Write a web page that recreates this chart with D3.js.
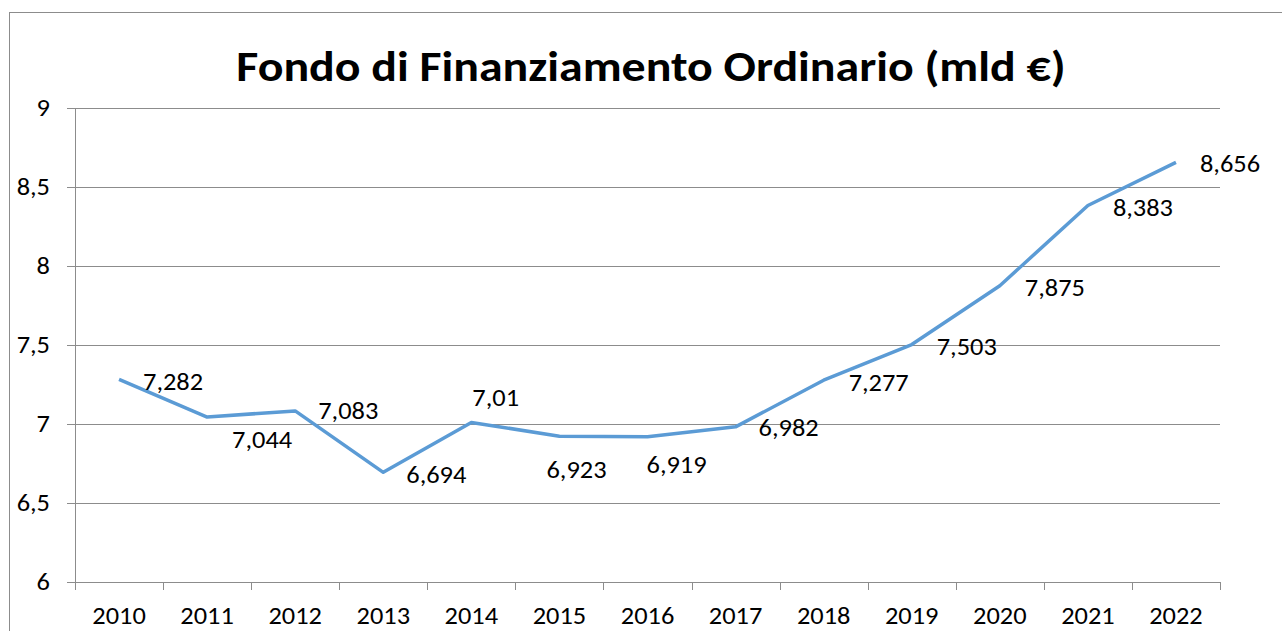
<!DOCTYPE html>
<html>
<head>
<meta charset="utf-8">
<script src="https://cdn.jsdelivr.net/npm/d3@7"></script>
<style>
  body { margin: 0; background: #fff; }
  svg { display: block; font-family: Carlito, Calibri, Lato, sans-serif; }
</style>
</head>
<body>
<div id="chart"></div>
<script>
// data
var years = ["2010", "2011", "2012", "2013", "2014", "2015", "2016", "2017", "2018", "2019", "2020", "2021", "2022"];
var ffo = [7.282, 7.044, 7.083, 6.694, 7.01, 6.923, 6.919, 6.982, 7.277, 7.503, 7.875, 8.383, 8.656];
var yTicks = [6, 6.5, 7, 7.5, 8, 8.5, 9];

var width = 1282, height = 631;
var margin = { left: 75, right: 62, top: 108, bottom: 49 };
var sx = 1.1; // the original is a bit wide, stretch text horizontally

var svg = d3.select("#chart")
    .append("svg")
    .attr("width", width)
    .attr("height", height);

// place a text at (px, py) stretched horizontally
function place(sel, px, py, k) {
    sel.attr("transform", function (d, i) {
        return "translate(" + px(d, i) + "," + py(d, i) + ") scale(" + (k || sx) + ",1)";
    });
}

// chart border
svg.append("rect")
    .attr("x", 9.5).attr("y", 12.5)
    .attr("width", 1400).attr("height", 800)
    .attr("fill", "none")
    .attr("stroke", "#8c8c8c");

svg.append("text")
    .attr("text-anchor", "middle")
    .attr("font-size", 42)
    .attr("font-weight", "bold")
    .text("Fondo di Finanziamento Ordinario (mld €)")
    .call(place, function () { return 651; }, function () { return 81; }, 1.14);

var x = d3.scaleBand()
    .domain(years)
    .range([margin.left, width - margin.right]);

var y = d3.scaleLinear()
    .domain([6, 9])
    .range([height - margin.bottom, margin.top]);

var fmt = function (v) { return String(v).replace(".", ","); };

// gridlines
svg.append("g")
    .selectAll("line")
    .data(yTicks)
    .enter().append("line")
    .attr("x1", margin.left - 8)
    .attr("x2", width - margin.right)
    .attr("y1", function (d) { return Math.round(y(d)) + 0.5; })
    .attr("y2", function (d) { return Math.round(y(d)) + 0.5; })
    .attr("stroke", "#8c8c8c");

// y axis line and labels
svg.append("line")
    .attr("x1", margin.left + 0.5).attr("x2", margin.left + 0.5)
    .attr("y1", margin.top).attr("y2", height - margin.bottom + 8)
    .attr("stroke", "#8c8c8c");

svg.append("g")
    .selectAll("text")
    .data(yTicks)
    .enter().append("text")
    .attr("dy", "0.35em")
    .attr("text-anchor", "end")
    .attr("font-size", 24)
    .text(fmt)
    .call(place, function () { return 50; }, function (d) { return y(d); });

// x axis ticks at band boundaries
var bounds = years.map(function (d) { return x(d); }).concat([x(years[years.length - 1]) + x.bandwidth()]);
svg.append("g")
    .selectAll("line")
    .data(bounds)
    .enter().append("line")
    .attr("x1", function (d) { return Math.round(d) + 0.5; })
    .attr("x2", function (d) { return Math.round(d) + 0.5; })
    .attr("y1", height - margin.bottom)
    .attr("y2", height - margin.bottom + 8)
    .attr("stroke", "#8c8c8c");

svg.append("g")
    .selectAll("text")
    .data(years)
    .enter().append("text")
    .attr("text-anchor", "middle")
    .attr("font-size", 24)
    .text(function (d) { return d; })
    .call(place, function (d) { return x(d) + x.bandwidth() / 2; }, function () { return 624; });

// line
var line = d3.line()
    .x(function (d, i) { return x(years[i]) + x.bandwidth() / 2; })
    .y(function (d) { return y(d); });

svg.append("path")
    .datum(ffo)
    .attr("d", line)
    .attr("fill", "none")
    .attr("stroke", "#5b9bd5")
    .attr("stroke-width", 3.5)
    .attr("stroke-linejoin", "round");

// label offsets like Excel's auto placement
var off = [[24, 2], [25, 23], [23, 0], [23, 2], [1, -25], [-13, 33], [-1, 28],
           [23, 1], [25, 2], [25, 2], [25, 2], [25, 2], [24, 1]];

svg.append("g")
    .selectAll("text")
    .data(ffo)
    .enter().append("text")
    .attr("dy", "0.35em")
    .attr("font-size", 24)
    .text(fmt)
    .call(place,
        function (d, i) { return x(years[i]) + x.bandwidth() / 2 + off[i][0]; },
        function (d, i) { return y(d) + off[i][1]; });
</script>
</body>
</html>
